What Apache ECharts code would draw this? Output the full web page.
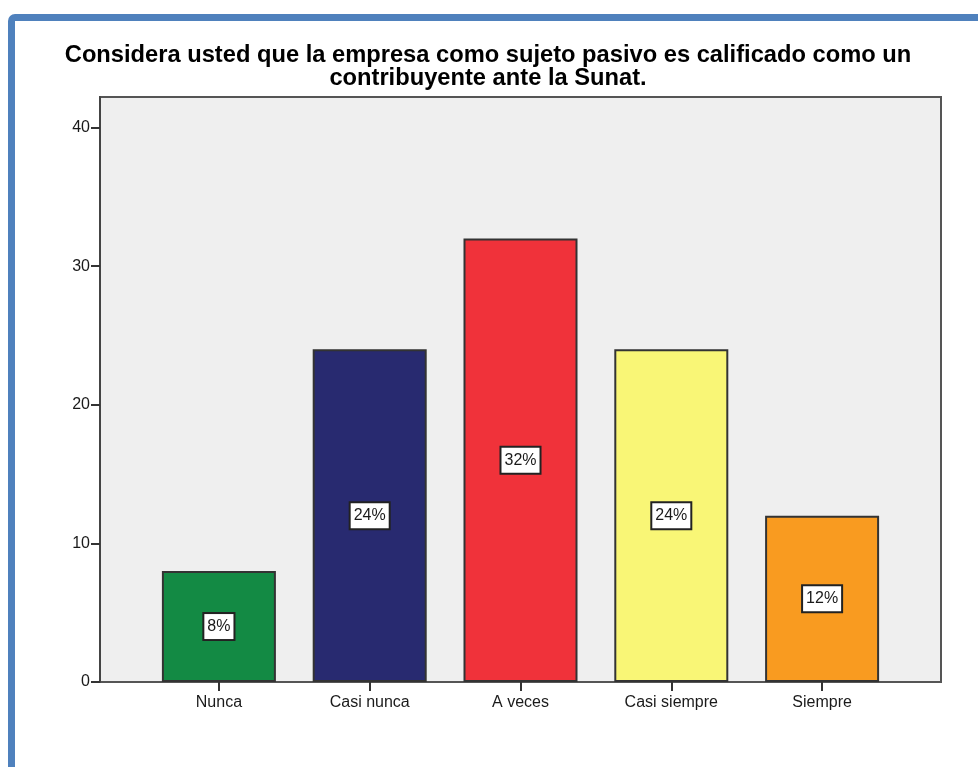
<!DOCTYPE html>
<html>
<head>
<meta charset="utf-8">
<script src="https://cdn.jsdelivr.net/npm/echarts@6/dist/echarts.min.js"></script>
<style>
  html, body { margin: 0; padding: 0; background: #fff; overflow: hidden; }
  #chart { position: absolute; left: 0; top: 0; width: 978px; height: 767px; }
  #frame {
    position: absolute; left: 8px; top: 14px; width: 1000px; height: 800px;
    border: 7px solid #4f81bd; border-radius: 7px; pointer-events: none;
  }
</style>
</head>
<body>
<div id="chart"></div>
<div id="frame"></div>
<script>
const categories = ['Nunca', 'Casi nunca', 'A veces', 'Casi siempre', 'Siempre']
const counts = [8, 24, 32, 24, 12]
const barColors = ['#138a44', '#282a70', '#f0323a', '#f9f676', '#f99b20']
const yTicks = [0, 10, 20, 30, 40]

const total = counts.reduce((a, b) => a + b, 0)
const yMax = 42.2
const font = 'Liberation Sans, Arial'

const chart = echarts.init(document.getElementById('chart'))

const option = {
  animation: false,
  title: {
    text: 'Considera usted que la empresa como sujeto pasivo es calificado como un\ncontribuyente ante la Sunat.',
    left: 483,
    top: 39,
    textAlign: 'center',
    textStyle: {
      fontFamily: font,
      fontSize: 23.7,
      fontWeight: 'bold',
      color: '#000',
      lineHeight: 23
    }
  },
  grid: [
    {
      left: 100, right: 37, top: 97, bottom: 85,
      show: true,
      backgroundColor: '#efefef',
      borderColor: '#555',
      borderWidth: 2
    },
    { left: 143.5, right: 80.5, top: 97, bottom: 85 }
  ],
  xAxis: [
    { type: 'value', gridIndex: 0, show: false, min: 0, max: 1 },
    {
      type: 'category',
      gridIndex: 1,
      data: categories,
      axisLine: { show: false },
      axisTick: { show: true, alignWithLabel: true, length: 9, lineStyle: { color: '#333', width: 2 } },
      axisLabel: { color: '#1a1a1a', fontSize: 16, fontFamily: font, margin: 13 }
    }
  ],
  yAxis: [
    {
      type: 'value',
      gridIndex: 0,
      min: 0,
      max: yMax,
      splitLine: { show: false },
      axisLine: { show: true, lineStyle: { color: '#444', width: 2 } },
      axisTick: { show: true, length: 9, customValues: yTicks, lineStyle: { color: '#333', width: 2 } },
      axisLabel: {
        customValues: yTicks,
        color: '#1a1a1a', fontSize: 16, fontFamily: font, margin: 10
      }
    },
    { type: 'value', gridIndex: 1, min: 0, max: yMax, show: false }
  ],
  series: [
    {
      type: 'bar',
      xAxisIndex: 1,
      yAxisIndex: 1,
      barWidth: 114,
      data: counts.map((v, i) => ({
        value: v,
        itemStyle: { color: barColors[i] }
      })),
      itemStyle: { borderColor: '#333', borderWidth: 2 },
      label: {
        show: true,
        position: 'inside',
        formatter: p => Math.round(p.value / total * 100) + '%',
        color: '#1a1a1a',
        fontSize: 16,
        lineHeight: 18,
        fontFamily: font,
        backgroundColor: '#fff',
        borderColor: '#222',
        borderWidth: 2,
        padding: [4, 3, 3, 3]
      }
    }
  ]
}

chart.setOption(option)
</script>
</body>
</html>
